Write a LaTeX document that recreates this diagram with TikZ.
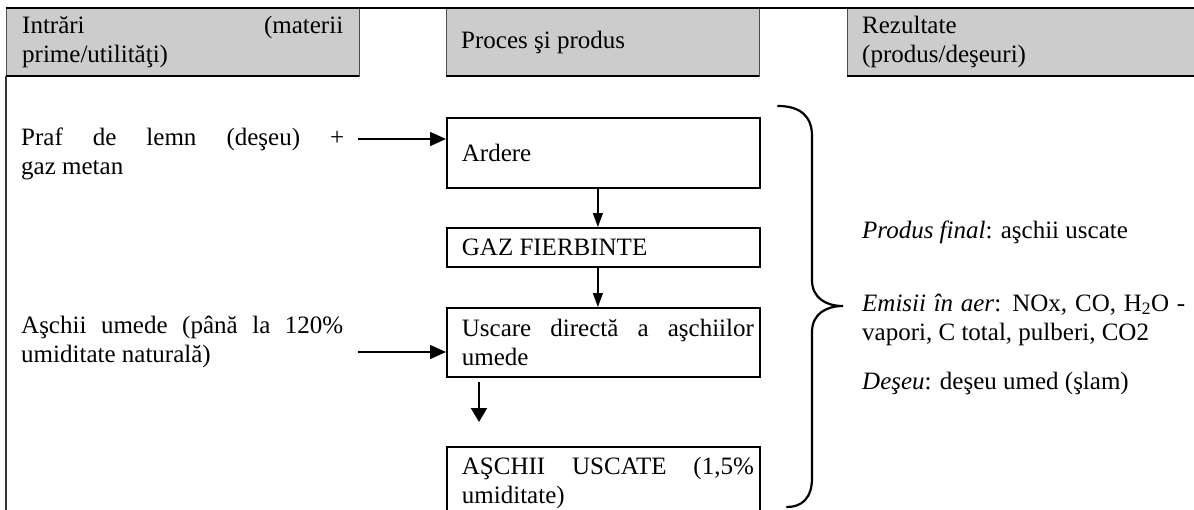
\documentclass[tikz,border=0pt]{standalone}
\usepackage{fontspec}
\setmainfont{Liberation Serif}
\usetikzlibrary{arrows.meta}

% one line stretched to a given width (justified)
\newcommand{\jline}[2]{\hbox to #1{#2}}
% cell content: fixed cell width, left padding, stacked lines
\newcommand{\cellbox}[3]{\hbox to #1{\hskip#2\vtop{#3}\hss}}

\begin{document}
\begin{tikzpicture}[x=1pt,y=-1pt,
  every node/.style={inner sep=0pt, font=\fontsize{25}{29}\selectfont},
  head/.style={fill=black!20, minimum height=68pt, anchor=north west},
  headedge/.style={draw=black!70, line width=0.9pt},
  stepbox/.style={draw, line width=1.8pt, minimum width=313pt, anchor=north west},
  txt/.style={anchor=base west},
  flow/.style={line width=1.5pt, -{Triangle[length=16pt,width=14pt]}},
  feed/.style={line width=1.3pt, -{Triangle[length=14pt,width=10pt]}},
  drop/.style={line width=2pt, -{Triangle[length=14pt,width=16pt]}},
  brace/.style={line width=2.2pt, line cap=round}
]
\useasboundingbox (0,0) rectangle (1194,509);
\clip (0,0) rectangle (1194,509);

% column headers
\node[head, minimum width=353pt] (hin) at (6,8)
  {\cellbox{353pt}{16pt}{\jline{321pt}{Intrări\hfill(materii}\hbox{prime/utilităţi)}}};
\node[head, minimum width=313pt] (hproc) at (446,8)
  {\cellbox{313pt}{15pt}{\hbox{Proces şi produs}}};
\node[head, minimum width=353pt] (hout) at (847,8)
  {\cellbox{353pt}{15pt}{\hbox{Rezultate}\hbox{(produs/deşeuri)}}};

\foreach \h in {hin,hproc,hout}{
  \draw[headedge] (\h.north west) rectangle (\h.south east);
  \draw[line width=2pt] (\h.south west) -- (\h.south east);
}
\draw[line width=2.4pt] (hin.north west) -- ++(1200,0);
\draw[line width=1.5pt, black!80] (hin.south west) -- ++(0,440);

% inputs
\node[txt] (praf) at (21,145)
  {\vtop{\jline{323pt}{Praf de lemn (deşeu) +}\hbox{gaz metan}}};
\node[txt] (umede) at (21,333)
  {\vtop{\jline{322pt}{Aşchii umede (până la 120\%}\hbox{umiditate naturală)}}};

% process steps
\node[stepbox, minimum height=70pt] (ardere) at (446,117)
  {\cellbox{313pt}{15pt}{\hbox{Ardere}}};
\node[stepbox, minimum height=39pt] (gaz) at (446,227)
  {\cellbox{313pt}{15pt}{\hbox{GAZ FIERBINTE}}};
\node[stepbox, minimum height=69pt] (uscare) at (446,307)
  {\cellbox{313pt}{15pt}{\jline{292pt}{Uscare directă a aşchiilor}\hbox{umede}}};
\node[stepbox, minimum height=72pt] (aschii) at (446,446)
  {\cellbox{313pt}{15pt}{\jline{292pt}{AŞCHII USCATE (1,5\%}\hbox{umiditate)}}};

% results
\node[txt] (final) at (862,238) {\textit{Produs final}: aşchii uscate};
\node[txt] (emisii) at (862,311)
  {\vtop{\jline{323pt}{\textit{Emisii în aer}: NOx, CO, H\textsubscript{2}O -}\hbox{vapori, C total, pulberi, CO2}}};
\node[txt] (deseu) at (862,389) {\textit{Deşeu}: deşeu umed (şlam)};

% connectors
\coordinate (src1) at (358,139);
\coordinate (src2) at (358,352);
\draw[flow] (src1) -- (src1 -| ardere.west);
\draw[flow] (src2) -- (src2 -| uscare.west);
\draw[feed] ([xshift=-5.5pt]ardere.south) -- ([xshift=-5.5pt]gaz.north);
\draw[feed] ([xshift=-5.5pt]gaz.south) -- ([xshift=-5.5pt]uscare.north);
\draw[drop] ([shift={(33,4)}]uscare.south west) -- ([shift={(33,-24)}]aschii.north west);

% brace grouping the steps
\coordinate (btop) at (778,106);
\coordinate (btip) at (843,306);
\coordinate (bbot) at (787,507);
\draw[brace] (btop) .. controls (800,106) and (812,116) .. (812,136)
  -- (812,280) .. controls (812,298) and (826,306) .. (btip)
  .. controls (826,306) and (812,314) .. (812,332)
  -- (812,478) .. controls (812,498) and (802,507) .. (bbot);
\end{tikzpicture}
\end{document}
